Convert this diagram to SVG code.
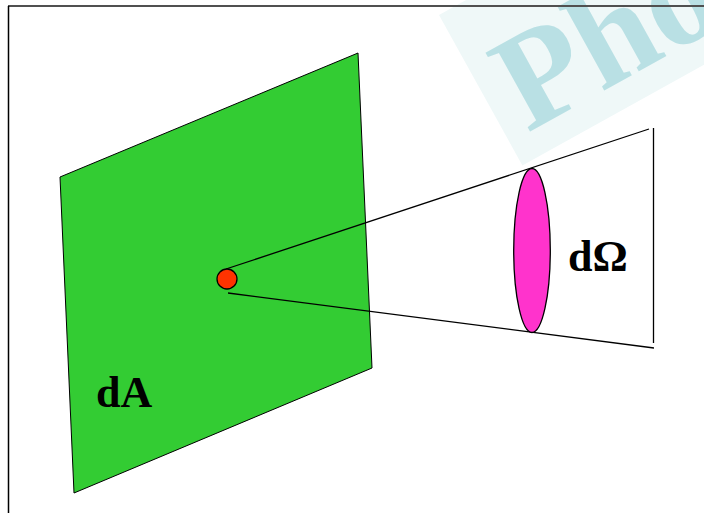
<svg xmlns="http://www.w3.org/2000/svg" width="704" height="513" viewBox="0 0 704 513">
<style>
.lbl{font-family:"Liberation Serif","Times New Roman",serif;font-weight:bold;font-size:44px;fill:#000}
.wm{font-family:"Liberation Serif","Times New Roman",serif;font-weight:bold;font-size:138px;fill:#b9e0e4}
.ln{stroke:#000;stroke-width:1.3;fill:none}
</style>
<rect width="704" height="513" fill="#fff"/>
<g id="watermark" transform="translate(439,15) rotate(-29)">
<rect x="0" y="0" width="420" height="172" fill="#eff8f8"/>
<text class="wm" x="20" y="146">Pho</text>
</g>
<g id="border">
<line x1="8" y1="6" x2="704" y2="6" stroke="#505050" stroke-width="2"/>
<line x1="8.5" y1="6" x2="8.5" y2="513" stroke="#000" stroke-width="1.5"/>
</g>
<g id="surface">
<polygon points="60,177 358,53 372,368 74,493" fill="#33cc33" stroke="#000" stroke-width="1"/>
<text class="lbl" x="96" y="407">dA</text>
</g>
<g id="connectors">
<line class="ln" x1="226" y1="269" x2="649" y2="129"/>
<line class="ln" x1="228" y1="293" x2="654" y2="348"/>
<line class="ln" x1="653.5" y1="128" x2="653.5" y2="343"/>
</g>
<g id="point">
<circle cx="227" cy="279" r="10" fill="#ff3300" stroke="#000" stroke-width="1.3"/>
</g>
<g id="solid-angle">
<ellipse cx="532" cy="250.5" rx="18.3" ry="82" fill="#ff33cc" stroke="#000" stroke-width="1.3"/>
<text class="lbl" x="568" y="271">dΩ</text>
</g>
</svg>
